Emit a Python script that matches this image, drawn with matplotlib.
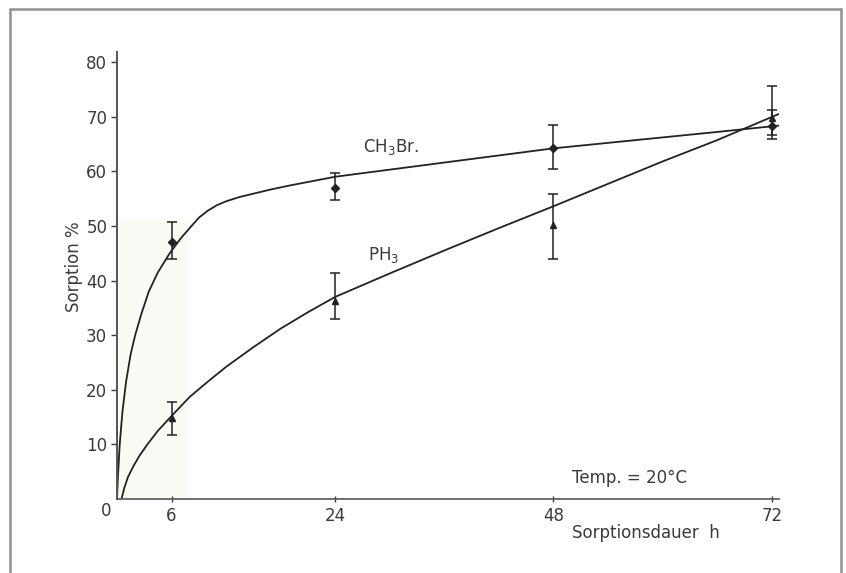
import numpy as np
import matplotlib.pyplot as plt
from matplotlib.patches import Rectangle

# Messpunkte (Mittelwert, obere und untere Fehlergrenze)
t_mess = [6, 24, 48, 72]
ch3br = [47.0, 57.0, 64.2, 68.3]
ch3br_oben = [50.8, 59.7, 68.4, 71.3]
ch3br_unten = [44.0, 54.7, 60.5, 66.6]
ph3 = [14.8, 36.3, 50.2, 69.8]
ph3_oben = [17.8, 41.3, 55.9, 75.6]
ph3_unten = [11.7, 33.0, 44.0, 65.9]

t_ch3br = [0, 0.1, 0.3, 0.6, 1.0, 1.5, 2.0, 2.7, 3.5, 4.5, 5.8, 7.0, 8.2, 9.0,
           10.0, 11.0, 12.0, 13.5, 15.0, 17.0, 19.0, 21.5, 24.0, 30, 36, 42, 48,
           54, 60, 66, 73]
k_ch3br = [0, 4, 10, 16, 21.5, 26.5, 30, 34, 38, 41.5, 45, 47.7, 50, 51.5,
           52.8, 53.8, 54.5, 55.3, 55.9, 56.7, 57.4, 58.2, 59.0, 60.3, 61.6, 62.9,
           64.2, 65.2, 66.2, 67.2, 68.4]
t_ph3 = [0.5, 0.8, 1.2, 1.8, 2.5, 3.3, 4.5, 6.0, 8.0, 10, 12, 15, 18, 21, 24,
         30, 36, 42, 48, 54, 60, 66, 72.8]
k_ph3 = [0, 2, 4, 6, 8, 9.9, 12.5, 15.2, 18.7, 21.5, 24.2, 27.8, 31.2, 34.2,
         37.0, 41.3, 45.5, 49.6, 53.6, 57.7, 61.8, 65.7, 70.5]

x_ticks = [6, 24, 48, 72]
y_ticks = [10, 20, 30, 40, 50, 60, 70, 80]

farbe = "#222222"
textfarbe = "#3a3a3a"
plt.rcParams["font.family"] = "DejaVu Sans"

fig = plt.figure(figsize=(8.46, 5.73), dpi=100)
ax = fig.add_axes([117 / 846, 74 / 573, 662 / 846, 446.8 / 573])
ax.set_xlim(0, 72.8)
ax.set_ylim(0, 81.8)

# Rahmen um die Abbildung
fig.patches.append(Rectangle((9.5 / 846, -0.05), (841 - 9.5) / 846, 1.05 - 9 / 573,
                             transform=fig.transFigure, fill=False,
                             edgecolor="#909090", linewidth=1.8))

# leicht getoenter Bereich
ax.add_patch(Rectangle((0, 0), 8.0, 51, facecolor="#fbfbf5", edgecolor="none", zorder=0))

ax.plot(t_ch3br, k_ch3br, color=farbe, lw=1.3)
ax.plot(t_ph3, k_ph3, color=farbe, lw=1.3)

err1 = [np.array(ch3br) - np.array(ch3br_unten), np.array(ch3br_oben) - np.array(ch3br)]
err2 = [np.array(ph3) - np.array(ph3_unten), np.array(ph3_oben) - np.array(ph3)]
ax.errorbar(t_mess, ch3br, yerr=err1, fmt="D", ms=4, color=farbe,
            ecolor=farbe, elinewidth=1.1, capsize=3.5, capthick=1.1)
ax.errorbar(t_mess, ph3, yerr=err2, fmt="^", ms=4.5, color=farbe,
            ecolor=farbe, elinewidth=1.1, capsize=3.5, capthick=1.1)

for s in ["top", "right"]:
    ax.spines[s].set_visible(False)
ax.spines["left"].set_color("#555555")
ax.spines["bottom"].set_color("#555555")
ax.spines["left"].set_linewidth(1.4)
ax.spines["bottom"].set_linewidth(1.2)

ax.set_xticks(x_ticks)
ax.set_yticks(y_ticks)
ax.tick_params(axis="x", direction="inout", length=5, width=1, pad=3,
               labelsize=12, colors=textfarbe)
ax.tick_params(axis="y", direction="out", length=4, width=1, pad=3,
               labelsize=12, colors=textfarbe)

ax.text(-1.2, -2.2, "0", fontsize=12, color=textfarbe, ha="center", va="center")
ax.text(-4.7, 42.5, "Sorption %", rotation=90, fontsize=12, color=textfarbe,
        ha="center", va="center")
ax.text(50.0, -6.2, "Sorptionsdauer  h", fontsize=12, color=textfarbe,
        ha="left", va="center", clip_on=False)
ax.text(50.0, 3.9, "Temp. = 20°C", fontsize=12, color=textfarbe, ha="left", va="center")
ax.text(27.0, 64.4, r"CH$_3$Br.", fontsize=12, color=textfarbe, ha="left", va="center")
ax.text(27.6, 44.7, r"PH$_3$", fontsize=12, color=textfarbe, ha="left", va="center")

fig.savefig("out.png", dpi=100)
